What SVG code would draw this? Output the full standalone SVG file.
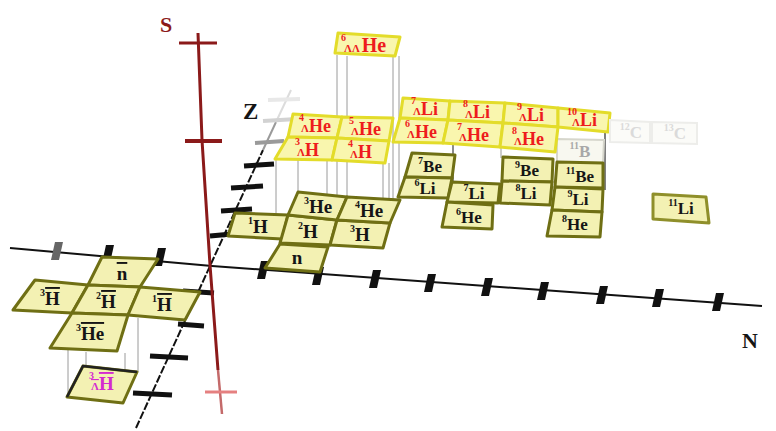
<svg xmlns="http://www.w3.org/2000/svg" width="776" height="431" viewBox="0 0 776 431">
<defs>
<style>
.t{font-family:"Liberation Serif","Times New Roman",serif;font-weight:bold;fill:#151515}
.a{text-anchor:middle}
.p{font-size:19px}
.q{font-size:17px}
.s{font-size:10px}
.l{font-size:11px}
.h{font-size:18px}
.r{fill:#ee1c1c}
.g{fill:#a8a8a8}
.gg{fill:#dadada}
.mg{fill:#d42ad0}
.ov{text-decoration:overline}
.pt{fill:#f3f1b3;stroke:#6f6f14;stroke-width:3;stroke-linejoin:round}
.ht{fill:#f9f6ae;stroke:#e3dc2a;stroke-width:3;stroke-linejoin:round}
.ft{fill:#f8f8f0;stroke:#d6d6cc;stroke-width:2}
.ff{fill:#fbfbf8;stroke:#ededea;stroke-width:2}
.vl{stroke:#9a9a9a;stroke-width:1;fill:none}
.zt{stroke:#111;stroke-width:5}
</style>
<path id="nt" d="M-2,-9 L6,-9 L2,9 L-6,9 Z"/>
</defs>
<rect width="776" height="431" fill="#fff"/>

<g id="axes">
  <polyline points="10,248 212,266 762,306" fill="none" stroke="#111" stroke-width="2"/>
  <g fill="#111">
    <use href="#nt" x="57" y="251" fill="#666"/>
    <use href="#nt" x="108" y="254"/>
    <use href="#nt" x="160" y="257"/>
    <use href="#nt" x="263" y="270"/>
    <use href="#nt" x="318" y="276"/>
    <use href="#nt" x="375" y="279"/>
    <use href="#nt" x="430" y="283"/>
    <use href="#nt" x="487" y="287"/>
    <use href="#nt" x="543" y="291"/>
    <use href="#nt" x="602" y="295"/>
    <use href="#nt" x="658" y="298"/>
    <use href="#nt" x="718" y="302"/>
  </g>
  <line x1="136" y1="428" x2="263" y2="150" stroke="#111" stroke-width="2" stroke-dasharray="8 2"/>
  <line x1="263" y1="150" x2="276" y2="122" stroke="#9a9a9a" stroke-width="2"/>
  <line x1="276" y1="122" x2="291" y2="90" stroke="#dcdcdc" stroke-width="2"/>
  <line x1="268" y1="100" x2="300" y2="99" stroke="#e8e8e8" stroke-width="4"/>
  <line x1="263" y1="121" x2="297" y2="119" stroke="#d2d2d2" stroke-width="4"/>
  <line x1="255" y1="143" x2="284" y2="141" stroke="#9a9a9a" stroke-width="4"/>
  <line class="zt" x1="244" y1="166" x2="274" y2="164"/>
  <line class="zt" x1="231" y1="188" x2="263" y2="186"/>
  <line class="zt" x1="221" y1="211" x2="252" y2="209"/>
  <line class="zt" x1="210" y1="236" x2="232" y2="234"/>
  <line class="zt" x1="183" y1="291" x2="214" y2="293"/>
  <line class="zt" x1="178" y1="324" x2="204" y2="326"/>
  <line class="zt" x1="150" y1="356" x2="188" y2="358"/>
  <line class="zt" x1="133" y1="393" x2="172" y2="395"/>
  <polyline points="198,33 202,140 210,265 218,370" fill="none" stroke="#8b1a1a" stroke-width="3"/>
  <line x1="218" y1="370" x2="222" y2="414" stroke="#c46a6a" stroke-width="2.5"/>
  <line x1="179" y1="43" x2="217" y2="43" stroke="#8b1a1a" stroke-width="3"/>
  <line x1="185" y1="141" x2="222" y2="141" stroke="#8b1a1a" stroke-width="4"/>
  <line x1="205" y1="392" x2="237" y2="392" stroke="#e58080" stroke-width="3"/>
  <text class="t" x="160" y="32" font-size="22" style="fill:#8b1a1a">S</text>
  <text class="t" x="243" y="119" font-size="23">Z</text>
  <text class="t" x="742" y="348" font-size="22">N</text>
</g>

<g id="connectors">
  <line class="vl" x1="337" y1="55" x2="337" y2="197"/>
  <line class="vl" x1="347" y1="56" x2="347" y2="197"/>
  <line class="vl" x1="393" y1="56" x2="393" y2="200"/>
  <line class="vl" x1="399" y1="56" x2="399" y2="200"/>
  <line class="vl" x1="276" y1="160" x2="276" y2="214"/>
  <line class="vl" x1="298" y1="160" x2="298" y2="193"/>
  <line class="vl" x1="327" y1="160" x2="327" y2="196"/>
  <line class="vl" x1="383" y1="163" x2="383" y2="200"/>
  <line class="vl" x1="389" y1="163" x2="389" y2="200"/>
  <line x1="453" y1="143" x2="453" y2="183" stroke="#666" stroke-width="1.5"/>
  <line class="vl" x1="501" y1="147" x2="501" y2="158"/>
  <line x1="605" y1="132" x2="605" y2="190" stroke="#555" stroke-width="1.5"/>
  <line class="vl" x1="68" y1="350" x2="68" y2="397"/>
  <line class="vl" x1="86" y1="352" x2="86" y2="366"/>
  <line class="vl" x1="125" y1="353" x2="125" y2="372"/>
  <line class="vl" x1="138" y1="318" x2="138" y2="372"/>
</g>

<g id="nuclei">
  <g id="n"><polygon class="pt" points="280,244 328,247 320,272 265,268"/><text class="t p a" x="297" y="264">n</text></g>
  <g id="H1"><polygon class="pt" points="235,213 288,215 282,239 228,236"/><text class="t p a" x="258" y="233"><tspan class="s" dy="-9">1</tspan><tspan dy="9">H</tspan></text></g>
  <g id="H2"><polygon class="pt" points="288,215 337,220 330,245 280,243"/><text class="t p a" x="308" y="238"><tspan class="s" dy="-9">2</tspan><tspan dy="9">H</tspan></text></g>
  <g id="H3"><polygon class="pt" points="337,220 390,223 383,248 330,245"/><text class="t p a" x="360" y="241"><tspan class="s" dy="-9">3</tspan><tspan dy="9">H</tspan></text></g>
  <g id="He3"><polygon class="pt" points="298,192 347,197 337,220 288,215"/><text class="t p a" x="318" y="213"><tspan class="s" dy="-9">3</tspan><tspan dy="9">He</tspan></text></g>
  <g id="He4"><polygon class="pt" points="347,197 400,200 390,223 337,220"/><text class="t p a" x="369" y="217"><tspan class="s" dy="-9">4</tspan><tspan dy="9">He</tspan></text></g>

  <g id="Be7"><polygon class="pt" points="412,153 455,155 452,178 405,177"/><text class="t q a" x="430" y="172"><tspan class="s" dy="-8">7</tspan><tspan dy="8">Be</tspan></text></g>
  <g id="Li6"><polygon class="pt" points="405,177 452,178 448,198 398,197"/><text class="t q a" x="425" y="194"><tspan class="s" dy="-8">6</tspan><tspan dy="8">Li</tspan></text></g>
  <g id="Li7"><polygon class="pt" points="452,182 500,184 498,203 447,202"/><text class="t q a" x="474" y="199"><tspan class="s" dy="-8">7</tspan><tspan dy="8">Li</tspan></text></g>
  <g id="He6"><polygon class="pt" points="447,202 493,205 492,229 442,227"/><text class="t q a" x="469" y="223"><tspan class="s" dy="-8">6</tspan><tspan dy="8">He</tspan></text></g>
  <g id="Be9"><polygon class="pt" points="503,157 553,159 552,182 502,181"/><text class="t q a" x="527" y="176"><tspan class="s" dy="-8">9</tspan><tspan dy="8">Be</tspan></text></g>
  <g id="Li8"><polygon class="pt" points="502,181 552,182 550,205 500,203"/><text class="t q a" x="526" y="199"><tspan class="s" dy="-8">8</tspan><tspan dy="8">Li</tspan></text></g>
  <g id="B11"><polygon class="ft" points="557,139 604,140 603,163 557,162"/><text class="t q a g" x="580" y="157"><tspan class="s" dy="-8">11</tspan><tspan dy="8">B</tspan></text></g>
  <g id="Be11"><polygon class="pt" points="557,162 603,163 603,188 555,187"/><text class="t q a" x="580" y="182"><tspan class="s" dy="-8">11</tspan><tspan dy="8">Be</tspan></text></g>
  <g id="Li9"><polygon class="pt" points="555,187 603,189 602,212 552,210"/><text class="t q a" x="578" y="205"><tspan class="s" dy="-8">9</tspan><tspan dy="8">Li</tspan></text></g>
  <g id="He8"><polygon class="pt" points="552,210 602,212 600,237 547,236"/><text class="t q a" x="575" y="230"><tspan class="s" dy="-8">8</tspan><tspan dy="8">He</tspan></text></g>
  <g id="Li11"><polygon class="pt" points="653,194 706,197 709,223 653,219" style="stroke:#8f8f2a"/><text class="t q a" x="681" y="214"><tspan class="s" dy="-8">11</tspan><tspan dy="8">Li</tspan></text></g>
</g>

<g id="hypernuclei">
  <g id="LHe4"><polygon class="ht" points="293,114 342,117 337,138 288,137"/><text class="t r" x="299" y="132"><tspan class="s" dy="-11">4</tspan><tspan class="l" dx="-3" dy="11">Λ</tspan><tspan class="h">He</tspan></text></g>
  <g id="LHe5"><polygon class="ht" points="342,117 393,118 389,141 337,138"/><text class="t r" x="349" y="135"><tspan class="s" dy="-11">5</tspan><tspan class="l" dx="-3" dy="11">Λ</tspan><tspan class="h">He</tspan></text></g>
  <g id="LH3"><polygon class="ht" points="288,137 337,138 332,160 275,159"/><text class="t r" x="295" y="156"><tspan class="s" dy="-11">3</tspan><tspan class="l" dx="-3" dy="11">Λ</tspan><tspan class="h">H</tspan></text></g>
  <g id="LH4"><polygon class="ht" points="337,138 389,141 385,163 332,160"/><text class="t r" x="348" y="158"><tspan class="s" dy="-11">4</tspan><tspan class="l" dx="-3" dy="11">Λ</tspan><tspan class="h">H</tspan></text></g>
  <g id="LLi7"><polygon class="ht" points="403,98 450,101 448,120 400,118"/><text class="t r" x="411" y="115"><tspan class="s" dy="-11">7</tspan><tspan class="l" dx="-3" dy="11">Λ</tspan><tspan class="h">Li</tspan></text></g>
  <g id="LLi8"><polygon class="ht" points="450,101 505,103 503,123 448,120"/><text class="t r" x="463" y="118"><tspan class="s" dy="-11">8</tspan><tspan class="l" dx="-3" dy="11">Λ</tspan><tspan class="h">Li</tspan></text></g>
  <g id="LLi9"><polygon class="ht" points="505,103 558,108 558,127 503,123"/><text class="t r" x="517" y="121"><tspan class="s" dy="-11">9</tspan><tspan class="l" dx="-3" dy="11">Λ</tspan><tspan class="h">Li</tspan></text></g>
  <g id="LLi10"><polygon class="ht" points="558,108 610,113 608,132 558,127"/><text class="t r" x="567" y="126"><tspan class="s" dy="-11">10</tspan><tspan class="l" dx="-5" dy="11">Λ</tspan><tspan class="h">Li</tspan></text></g>
  <g id="LHe6"><polygon class="ht" points="400,118 448,120 443,143 393,142"/><text class="t r" x="405" y="138"><tspan class="s" dy="-11">6</tspan><tspan class="l" dx="-3" dy="11">Λ</tspan><tspan class="h">He</tspan></text></g>
  <g id="LHe7"><polygon class="ht" points="448,120 503,123 500,147 443,143"/><text class="t r" x="457" y="141"><tspan class="s" dy="-11">7</tspan><tspan class="l" dx="-3" dy="11">Λ</tspan><tspan class="h">He</tspan></text></g>
  <g id="LHe8"><polygon class="ht" points="503,123 558,127 555,152 500,147"/><text class="t r" x="512" y="145"><tspan class="s" dy="-11">8</tspan><tspan class="l" dx="-3" dy="11">Λ</tspan><tspan class="h">He</tspan></text></g>
  <g id="C12"><polygon class="ff" points="610,120 650,122 650,143 610,142"/><text class="t q a gg" x="631" y="138"><tspan class="s" dy="-8">12</tspan><tspan dy="8">C</tspan></text></g>
  <g id="C13"><polygon class="ff" points="652,122 697,123 697,144 652,143"/><text class="t q a gg" x="675" y="139"><tspan class="s" dy="-8">13</tspan><tspan dy="8">C</tspan></text></g>
  <g id="LLHe6"><polygon class="ht" points="338,33 400,37 395,56 335,53"/><text class="t r" x="341" y="52"><tspan class="s" dy="-11">6</tspan><tspan class="l" dx="-2" dy="11">ΛΛ</tspan><tspan dx="2" style="font-size:20px">He</tspan></text></g>
</g>

<g id="antinuclei">
  <g id="nbar"><polygon class="pt" points="102,257 158,259 140,287 88,285"/><text class="t p a" x="122" y="280"><tspan class="ov">n</tspan></text></g>
  <g id="H3bar"><polygon class="pt" points="35,280 88,285 72,313 13,310"/><text class="t p a" x="50" y="305"><tspan class="s" dy="-9">3</tspan><tspan class="ov" dy="9">H</tspan></text></g>
  <g id="H2bar"><polygon class="pt" points="88,285 140,287 128,315 72,313"/><text class="t p a" x="106" y="308"><tspan class="s" dy="-9">2</tspan><tspan class="ov" dy="9">H</tspan></text></g>
  <g id="H1bar"><polygon class="pt" points="140,287 200,292 185,320 128,315"/><text class="t p a" x="162" y="311"><tspan class="s" dy="-9">1</tspan><tspan class="ov" dy="9">H</tspan></text></g>
  <g id="He3bar"><polygon class="pt" points="72,313 128,315 117,351 50,348"/><text class="t p a" x="90" y="340"><tspan class="s" dy="-9">3</tspan><tspan class="ov" dy="9">He</tspan></text></g>
  <g id="LH3bar"><polygon class="pt" points="83,366 137,372 123,403 67,397"/><polyline points="67,397 83,366 137,372" fill="none" stroke="#222" stroke-width="2.5"/><text class="t mg" x="89" y="390"><tspan class="s" dy="-11">3</tspan><tspan class="l ov" dx="-3" dy="11">Λ</tspan><tspan class="p ov">H</tspan></text></g>
</g>
</svg>
